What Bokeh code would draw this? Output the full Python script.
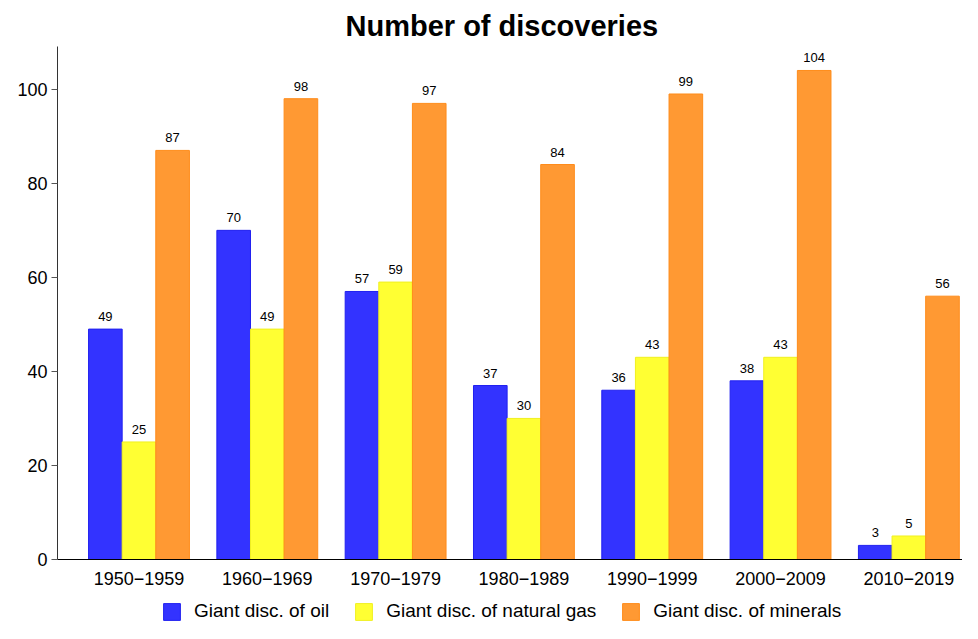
from bokeh.plotting import figure
from bokeh.layouts import column
from bokeh.models import ColumnDataSource, Range1d, FixedTicker, Legend, LegendItem, LabelSet, Title
from bokeh.core.properties import value
from bokeh.embed import file_html
from bokeh.resources import INLINE

decades = ["1950\u22121959", "1960\u22121969", "1970\u22121979", "1980\u22121989",
           "1990\u22121999", "2000\u22122009", "2010\u22122019"]
oil = [49, 70, 57, 37, 36, 38, 3]
gas = [25, 49, 59, 30, 43, 43, 5]
minerals = [87, 98, 97, 84, 99, 104, 56]
series_names = ["Giant disc. of oil", "Giant disc. of natural gas", "Giant disc. of minerals"]
y_ticks = [0, 20, 40, 60, 80, 100]

fills = ["#3333FF", "#FFFF33", "#FF9933"]
lines = ["#2020F0", "#F0F020", "#FF8C1A"]
FONT = "Liberation Sans"

xs = list(range(1, len(decades) + 1))
bw = 0.262
offsets = [-bw, 0.0, bw]

p = figure(width=962, height=587, output_backend="svg", toolbar_location=None,
           x_range=Range1d(0.365, 7.418), y_range=Range1d(0, 109.1),
           min_border_left=57, min_border_right=0, min_border_top=46, min_border_bottom=27)
p.outline_line_color = None
p.xgrid.visible = False
p.ygrid.visible = False
p.background_fill_color = "white"
p.border_fill_color = "white"

p.title = Title(text="Number of discoveries", align="left", offset=288,
                text_font=FONT, text_font_size="29px", text_font_style="bold",
                text_color="black")

for vals, fc, lc, off in zip([oil, gas, minerals], fills, lines, offsets):
    src = ColumnDataSource(dict(x=[x + off for x in xs], top=vals,
                                lab=[str(v) for v in vals]))
    p.vbar(x="x", top="top", bottom=0, width=bw, source=src,
           fill_color=fc, line_color=lc, line_width=1)
    p.add_layout(LabelSet(x="x", y="top", text="lab", source=src,
                          text_align="center", text_baseline="bottom", y_offset=8,
                          text_font=value(FONT), text_font_size=value("13px"),
                          text_color="black"))

p.yaxis.ticker = FixedTicker(ticks=y_ticks)
p.yaxis.minor_tick_line_color = None
p.yaxis.major_tick_out = 6
p.yaxis.major_tick_in = 0
p.yaxis.axis_line_color = "#333333"
p.yaxis.major_tick_line_color = "#555555"
p.yaxis.major_label_text_font = FONT
p.yaxis.major_label_text_font_size = "18px"
p.yaxis.major_label_text_color = "black"
p.yaxis.major_label_standoff = 4

p.xaxis.ticker = FixedTicker(ticks=xs)
p.xaxis.major_label_overrides = {x: d for x, d in zip(xs, decades)}
p.xaxis.major_tick_line_color = None
p.xaxis.minor_tick_line_color = None
p.xaxis.axis_line_color = "black"
p.xaxis.major_label_text_font = FONT
p.xaxis.major_label_text_font_size = "18px"
p.xaxis.major_label_text_color = "black"
p.xaxis.major_label_standoff = 6

# legend strip below the chart (its frame is aligned with the chart frame)
lg = figure(width=962, height=36, output_backend="svg", toolbar_location=None,
            x_range=Range1d(0, 1), y_range=Range1d(0, 1),
            x_axis_location=None, y_axis_location=None, min_border=0)
lg.outline_line_color = None
lg.xgrid.visible = False
lg.ygrid.visible = False
items = []
for name, fc, lc in zip(series_names, fills, lines):
    r = lg.vbar(x=[-5], top=[0], width=0.1, fill_color=fc, line_color=lc, line_width=1)
    items.append(LegendItem(label=name, renderers=[r]))
legend = Legend(items=items, orientation="horizontal", location=(104, 1),
                glyph_width=21, glyph_height=21, label_standoff=12, spacing=24,
                label_text_font=FONT, label_text_font_size="19px", label_text_color="black",
                border_line_color=None, background_fill_alpha=0, padding=0, margin=0)
lg.add_layout(legend, "center")

layout = column(p, lg, spacing=0)
open("out.html", "w").write(file_html(layout, INLINE))
